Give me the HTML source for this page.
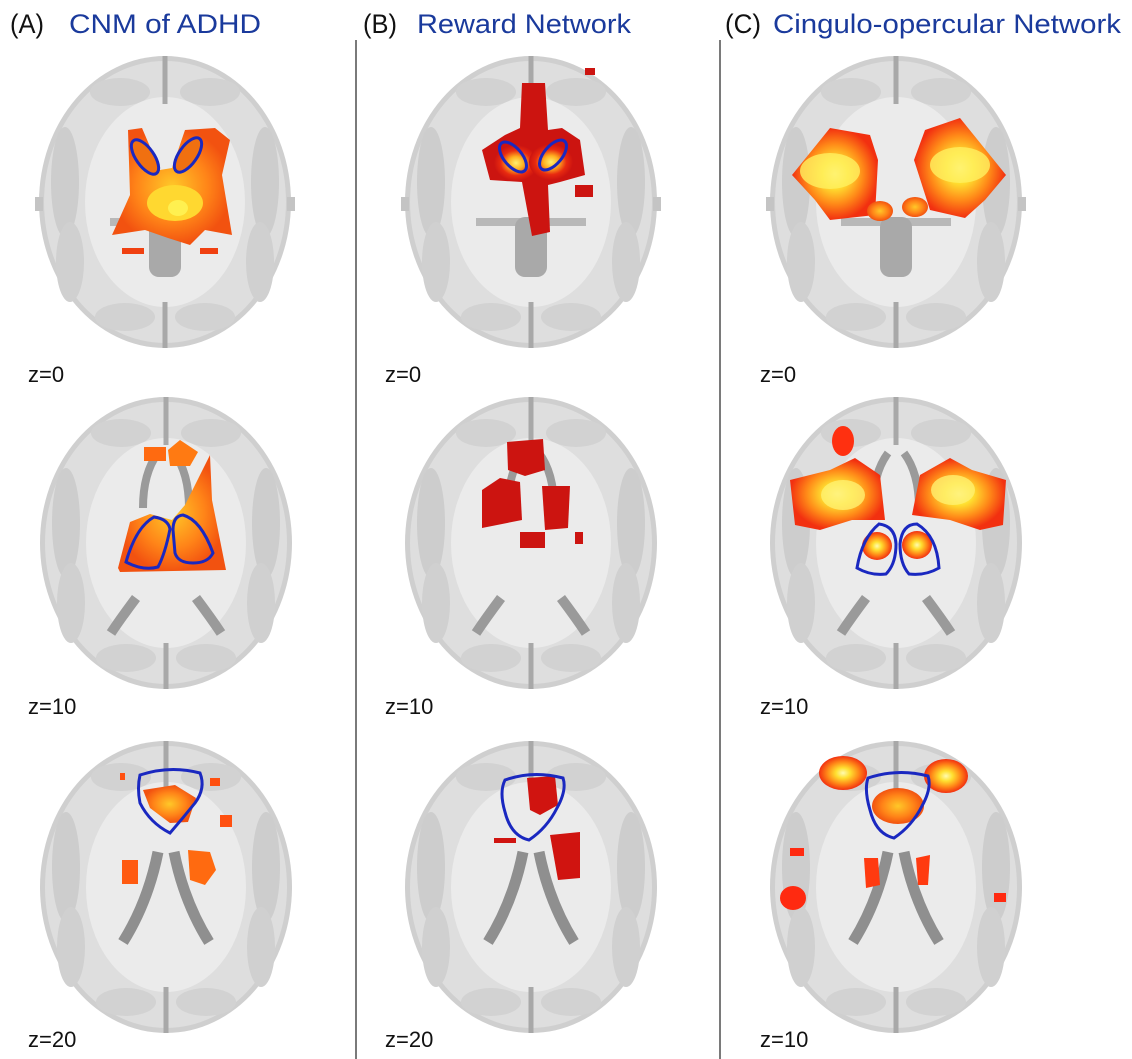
<!DOCTYPE html>
<html><head><meta charset="utf-8"><style>
html,body{margin:0;padding:0;background:#fff;}
svg{display:block;}
text{font-family:"Liberation Sans",sans-serif;}
</style></head><body>
<svg width="1132" height="1059" viewBox="0 0 1132 1059" xmlns="http://www.w3.org/2000/svg">
<defs>
<radialGradient id="hot" cx="50%" cy="50%" r="50%">
<stop offset="0" stop-color="#fffbb0"/><stop offset="0.3" stop-color="#ffe030"/><stop offset="0.65" stop-color="#ff8a18"/><stop offset="1" stop-color="#f23010"/>
</radialGradient>
<radialGradient id="org" cx="50%" cy="50%" r="50%">
<stop offset="0" stop-color="#ffc828"/><stop offset="0.6" stop-color="#ff8418"/><stop offset="1" stop-color="#f25210"/>
</radialGradient>
<radialGradient id="red" cx="50%" cy="50%" r="50%">
<stop offset="0" stop-color="#fff070"/><stop offset="0.35" stop-color="#ffb020"/><stop offset="0.7" stop-color="#e82a10"/><stop offset="1" stop-color="#cc1410"/>
</radialGradient>
<g id="bc">
<ellipse cx="0" cy="0" rx="126" ry="146" fill="#cfcfcf"/>
<ellipse cx="0" cy="0" rx="121" ry="141" fill="#dedede"/>
<ellipse cx="-100" cy="-20" rx="14" ry="55" fill="#cdcdcd"/>
<ellipse cx="100" cy="-20" rx="14" ry="55" fill="#cdcdcd"/>
<ellipse cx="-95" cy="60" rx="14" ry="40" fill="#d0d0d0"/>
<ellipse cx="95" cy="60" rx="14" ry="40" fill="#d0d0d0"/>
<ellipse cx="-45" cy="-110" rx="30" ry="14" fill="#d2d2d2"/>
<ellipse cx="45" cy="-110" rx="30" ry="14" fill="#d2d2d2"/>
<ellipse cx="-40" cy="115" rx="30" ry="14" fill="#d2d2d2"/>
<ellipse cx="40" cy="115" rx="30" ry="14" fill="#d2d2d2"/>
<ellipse cx="0" cy="0" rx="80" ry="105" fill="#ebebeb"/>
<rect x="-2.5" y="-146" width="5" height="48" fill="#a8a8a8"/>
<rect x="-2.5" y="100" width="5" height="46" fill="#a8a8a8"/>
</g>
<g id="b0">
<use href="#bc"/>
<rect x="-130" y="-5" width="8" height="14" fill="#c4c4c4"/><rect x="122" y="-5" width="8" height="14" fill="#c4c4c4"/>
<path d="M-55,20 L55,20" stroke="#b8b8b8" stroke-width="8"/>
<rect x="-16" y="15" width="32" height="60" rx="10" fill="#a9a9a9"/>
</g>
<g id="b1">
<use href="#bc"/>
<path d="M-8,-90 q-15,20 -15,55 M8,-90 q15,20 15,55" stroke="#9a9a9a" stroke-width="8" fill="none"/>
<path d="M-30,55 q-15,20 -25,35 M30,55 q15,20 25,35" stroke="#9a9a9a" stroke-width="10" fill="none"/>
</g>
<g id="b2">
<use href="#bc"/>
<path d="M-8,-35 q-10,50 -35,90 M8,-35 q10,50 35,90" stroke="#8f8f8f" stroke-width="11" fill="none"/>
</g>
</defs>

<line x1="356" y1="40" x2="356" y2="1059" stroke="#222" stroke-width="1.2"/>
<line x1="720" y1="40" x2="720" y2="1059" stroke="#222" stroke-width="1.2"/>

<text x="10" y="33" font-size="27" fill="#111" textLength="34" lengthAdjust="spacingAndGlyphs">(A)</text>
<text x="69" y="33" font-size="27" fill="#1a3a9c" textLength="192" lengthAdjust="spacingAndGlyphs">CNM of ADHD</text>
<text x="363" y="33" font-size="27" fill="#111" textLength="34" lengthAdjust="spacingAndGlyphs">(B)</text>
<text x="417" y="33" font-size="27" fill="#1a3a9c" textLength="214" lengthAdjust="spacingAndGlyphs">Reward Network</text>
<text x="725" y="33" font-size="27" fill="#111" textLength="36" lengthAdjust="spacingAndGlyphs">(C)</text>
<text x="773" y="33" font-size="27" fill="#1a3a9c" textLength="348" lengthAdjust="spacingAndGlyphs">Cingulo-opercular Network</text>

<!-- Column A -->
<use href="#b0" transform="translate(165,202)"/>
<use href="#b1" transform="translate(166,543)"/>
<use href="#b2" transform="translate(166,887)"/>
<path d="M128,130 L142,128 L160,170 L172,168 L185,130 L215,128 L230,140 L222,175 L232,235 L205,230 L190,245 L168,238 L145,230 L112,235 L130,195 Z" fill="url(#org)"/>
<ellipse cx="175" cy="203" rx="28" ry="18" fill="#ffd830"/>
<ellipse cx="178" cy="208" rx="10" ry="8" fill="#fff050"/>
<rect x="122" y="248" width="22" height="6" fill="#f04010"/>
<rect x="200" y="248" width="18" height="6" fill="#f04010"/>
<ellipse cx="145" cy="157" rx="9" ry="20" transform="rotate(-35 145 157)" fill="#f07010" stroke="#1a28c0" stroke-width="3"/>
<ellipse cx="188" cy="155" rx="9" ry="20" transform="rotate(35 188 155)" fill="#f07010" stroke="#1a28c0" stroke-width="3"/>
<rect x="144" y="447" width="22" height="14" fill="#ff6a10"/>
<path d="M168,450 L180,440 L198,452 L190,466 L170,466 Z" fill="#ff7a12"/>
<path d="M118,568 L130,522 L150,514 L172,520 L185,505 L210,455 L212,500 L226,570 L120,572 Z" fill="url(#org)"/>
<path d="M126,562 q10,-35 28,-45 q14,2 16,12 q-5,25 -12,38 q-15,4 -32,-5 Z" fill="none" stroke="#1a28c0" stroke-width="3"/>
<path d="M173,530 q0,-14 10,-15 q18,5 30,38 q-5,10 -20,10 q-15,0 -18,-10 Z" fill="none" stroke="#1a28c0" stroke-width="3"/>
<path d="M143,790 L175,785 L196,798 L188,822 L170,823 L150,808 Z" fill="url(#org)"/>
<path d="M140,775 q30,-10 60,-2 q6,15 -5,30 q-12,15 -25,30 q-20,-10 -30,-30 q-3,-15 0,-28 Z" fill="none" stroke="#1a28c0" stroke-width="3"/>
<rect x="122" y="860" width="16" height="24" fill="#ff5a10"/>
<path d="M188,850 L210,852 L216,870 L205,885 L190,880 Z" fill="#ff6a10"/>
<rect x="210" y="778" width="10" height="8" fill="#ff5010"/>
<rect x="220" y="815" width="12" height="12" fill="#ff5010"/>
<rect x="120" y="773" width="5" height="7" fill="#ff5010"/>

<!-- Column B -->
<use href="#b0" transform="translate(531,202)"/>
<use href="#b1" transform="translate(531,543)"/>
<use href="#b2" transform="translate(531,887)"/>
<path d="M522,83 L545,83 L548,130 L562,128 L580,140 L585,175 L560,182 L548,185 L550,232 L532,236 L522,182 L490,180 L482,150 L505,135 L520,128 Z" fill="#cc1410"/>
<ellipse cx="516" cy="163" rx="22" ry="18" fill="url(#red)"/>
<ellipse cx="551" cy="162" rx="22" ry="18" fill="url(#red)"/>
<ellipse cx="513" cy="157" rx="9" ry="18" transform="rotate(-40 513 157)" fill="none" stroke="#1a28c0" stroke-width="3"/>
<ellipse cx="553" cy="155" rx="9" ry="18" transform="rotate(40 553 155)" fill="none" stroke="#1a28c0" stroke-width="3"/>
<rect x="585" y="68" width="10" height="7" fill="#cc1410"/>
<rect x="575" y="185" width="18" height="12" fill="#cc1410"/>
<path d="M507,442 L543,439 L545,470 L525,476 L508,470 Z" fill="#cc1410"/>
<path d="M482,490 L500,478 L520,482 L522,520 L482,528 Z" fill="#cc1410"/>
<path d="M542,486 L570,486 L568,528 L545,530 Z" fill="#cc1410"/>
<rect x="520" y="532" width="25" height="16" fill="#cc1410"/>
<rect x="575" y="532" width="8" height="12" fill="#cc1410"/>
<path d="M527,778 L555,776 L558,805 L540,815 L530,810 Z" fill="#d01410"/>
<path d="M550,835 L580,832 L580,878 L558,880 Z" fill="#d01410"/>
<rect x="494" y="838" width="22" height="5" fill="#d01410"/>
<path d="M505,780 q28,-10 58,-2 q4,12 -6,30 q-10,20 -28,32 q-18,-4 -24,-28 q-6,-20 0,-32 Z" fill="none" stroke="#1a28c0" stroke-width="3"/>

<!-- Column C -->
<use href="#b0" transform="translate(896,202)"/>
<use href="#b1" transform="translate(896,543)"/>
<use href="#b2" transform="translate(896,887)"/>
<path d="M792,175 L830,128 L870,135 L878,160 L875,215 L830,220 L815,200 Z" fill="url(#hot)"/>
<path d="M1006,175 L960,118 L925,130 L914,160 L930,210 L965,218 L985,200 Z" fill="url(#hot)"/>
<ellipse cx="830" cy="171" rx="30" ry="18" fill="#fff060" opacity="0.8"/>
<ellipse cx="960" cy="165" rx="30" ry="18" fill="#fff060" opacity="0.8"/>
<ellipse cx="880" cy="211" rx="13" ry="10" fill="url(#org)"/>
<ellipse cx="915" cy="207" rx="13" ry="10" fill="url(#org)"/>
<ellipse cx="843" cy="441" rx="11" ry="15" fill="#ff3010"/>
<path d="M790,480 L830,470 L855,458 L880,475 L885,520 L852,520 L820,530 L795,525 Z" fill="url(#hot)"/>
<path d="M1006,480 L972,470 L950,458 L920,475 L912,515 L950,520 L980,530 L1003,525 Z" fill="url(#hot)"/>
<ellipse cx="843" cy="495" rx="22" ry="15" fill="#fff070" opacity="0.8"/>
<ellipse cx="953" cy="490" rx="22" ry="15" fill="#fff070" opacity="0.8"/>
<ellipse cx="877" cy="546" rx="15" ry="14" fill="url(#hot)"/>
<ellipse cx="917" cy="545" rx="15" ry="14" fill="url(#hot)"/>
<path d="M857,568 q5,-30 22,-44 q16,2 17,20 q0,20 -10,30 q-15,2 -29,-6 Z" fill="none" stroke="#1a28c0" stroke-width="3"/>
<path d="M900,544 q2,-20 17,-20 q20,12 22,44 q-14,8 -30,6 q-9,-10 -9,-30 Z" fill="none" stroke="#1a28c0" stroke-width="3"/>
<ellipse cx="843" cy="773" rx="24" ry="17" fill="url(#hot)"/>
<ellipse cx="946" cy="776" rx="22" ry="17" fill="url(#hot)"/>
<ellipse cx="898" cy="806" rx="26" ry="18" fill="url(#org)"/>
<path d="M868,778 q30,-10 60,-2 q4,12 -6,30 q-10,20 -28,32 q-18,-4 -24,-28 q-6,-20 -2,-32 Z" fill="none" stroke="#1a28c0" stroke-width="3"/>
<ellipse cx="793" cy="898" rx="13" ry="12" fill="#ff2a10"/>
<rect x="790" y="848" width="14" height="8" fill="#ff2a10"/>
<rect x="994" y="893" width="12" height="9" fill="#ff2a10"/>
<path d="M864,858 L878,858 L880,885 L866,888 Z" fill="#ff3a10"/>
<path d="M916,858 L930,855 L928,885 L918,885 Z" fill="#ff3a10"/>

<text x="28" y="382" font-size="22" fill="#111">z=0</text>
<text x="28" y="714" font-size="22" fill="#111">z=10</text>
<text x="28" y="1047" font-size="22" fill="#111">z=20</text>
<text x="385" y="382" font-size="22" fill="#111">z=0</text>
<text x="385" y="714" font-size="22" fill="#111">z=10</text>
<text x="385" y="1047" font-size="22" fill="#111">z=20</text>
<text x="760" y="382" font-size="22" fill="#111">z=0</text>
<text x="760" y="714" font-size="22" fill="#111">z=10</text>
<text x="760" y="1047" font-size="22" fill="#111">z=10</text>
</svg>
</body></html>
